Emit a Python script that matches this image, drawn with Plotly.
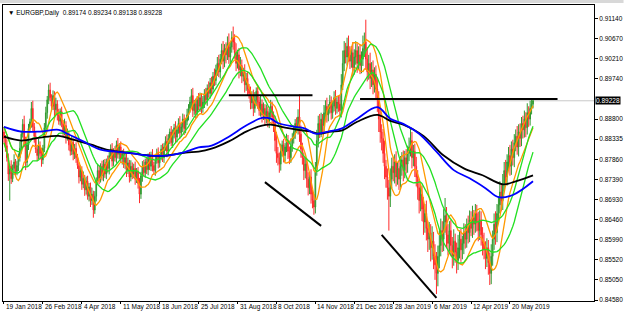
import plotly.graph_objects as go
import pandas as pd

# ---------------- data (prices in pips, /10000) ----------------
first_open = 8850
closes = [
 8835, 8818, 8790, 8752, 8770, 8741, 8765, 8780, 8758, 8772,
 8790, 8812, 8845, 8868, 8830, 8779, 8820, 8858, 8874, 8905,
 8862, 8840, 8810, 8795, 8818, 8800, 8785, 8812, 8860, 8895,
 8925, 8948, 8930, 8910, 8935, 8902, 8915, 8890, 8875, 8898,
 8870, 8852, 8865, 8838, 8845, 8820, 8805, 8826, 8798, 8812,
 8790, 8772, 8745, 8760, 8728, 8742, 8715, 8735, 8700, 8722,
 8690, 8705, 8668, 8700, 8735, 8760, 8742, 8770, 8748, 8775,
 8752, 8780, 8765, 8795, 8810, 8782, 8805, 8790, 8820, 8798,
 8815, 8788, 8800, 8775, 8790, 8760, 8778, 8745, 8770, 8752,
 8765, 8740, 8758, 8730, 8705, 8748, 8770, 8755, 8780, 8762,
 8790, 8770, 8795, 8772, 8760, 8785, 8800, 8778, 8792, 8810,
 8790, 8815, 8828, 8805, 8835, 8850, 8825, 8845, 8860, 8838,
 8855, 8870, 8848, 8862, 8880, 8858, 8875, 8890, 8905, 8920,
 8935, 8900, 8915, 8895, 8925, 8910, 8930, 8905, 8920, 8940,
 8925, 8952, 8940, 8965, 8950, 8980, 8970, 8995, 9010, 8990,
 9020, 9040, 9015, 9045, 9030, 9055, 9025, 9048, 9070, 9060,
 9035, 9010, 9030, 8995, 9005, 8980, 8990, 8960, 8975, 8950,
 8940, 8918, 8935, 8905, 8925, 8945, 8920, 8900, 8915, 8890,
 8905, 8880, 8898, 8875, 8895, 8910, 8885, 8870, 8830, 8800,
 8790, 8775, 8805, 8820, 8795, 8815, 8830, 8805, 8790, 8818,
 8835, 8850, 8870, 8858, 8885, 8845, 8810, 8790, 8760, 8775,
 8740, 8720, 8745, 8705, 8690, 8675, 8760, 8830, 8870, 8850,
 8880, 8865, 8895, 8910, 8890, 8905, 8920, 8895, 8910, 8930,
 8905, 8920, 8915, 8900, 8960, 9010, 9040, 9025, 9050, 9030,
 9015, 9035, 9000, 9025, 9040, 9010, 9030, 9005, 9020, 9045,
 9060, 9020, 8990, 9010, 8975, 8995, 8960, 8985, 8950, 8925,
 8880, 8850, 8835, 8800, 8770, 8745, 8720, 8700, 8740, 8770,
 8755, 8780, 8745, 8765, 8740, 8770, 8785, 8760, 8790, 8775,
 8800, 8815, 8830, 8790, 8805, 8770, 8745, 8720, 8690, 8705,
 8670, 8640, 8660, 8625, 8600, 8615, 8580, 8595, 8560, 8540,
 8520, 8560, 8585, 8620, 8600, 8640, 8655, 8610, 8590, 8620,
 8585, 8560, 8595, 8570, 8550, 8580, 8600, 8575, 8590, 8615,
 8600, 8630, 8615, 8645, 8625, 8650, 8635, 8660, 8640, 8620,
 8645, 8610, 8590, 8575, 8555, 8580, 8545, 8520, 8560, 8600,
 8635, 8615, 8660, 8680, 8710, 8690, 8730, 8760, 8745, 8780,
 8795, 8770, 8810, 8790, 8825, 8840, 8815, 8850, 8835, 8870,
 8855, 8880, 8860, 8895, 8880, 8905, 8915, 8923,
]
upper_wick = [
 12, 8, 15, 10, 6, 14, 9, 18, 7, 11,
 10, 16, 8, 12, 20, 9, 14, 11, 7, 15,
 18, 9, 12, 7, 16, 10, 13, 8, 11, 14,
 9, 13, 17, 8, 12, 10, 15, 9, 14, 7,
 11, 8, 16, 10, 13, 7, 12, 15, 9, 10,
 14, 9, 7, 12, 10, 16, 8, 11, 13, 9,
 10, 15, 8, 12, 9, 14, 11, 7, 13, 10,
 12, 8, 15, 9, 11, 14, 7, 12, 10, 16,
 9, 13, 8, 11, 15, 10, 12, 7, 14, 9,
 11, 16, 8, 10, 13, 9, 12, 15, 8, 11,
 10, 13, 9, 15, 8, 12, 11, 14, 7, 10,
 13, 9, 12, 16, 10, 8, 14, 11, 9, 15,
 10, 12, 17, 9, 13, 11, 8, 14, 10, 12,
 15, 18, 10, 13, 9, 16, 12, 11, 14, 10,
 13, 9, 16, 11, 14, 10, 18, 12, 15, 20,
 12, 16, 22, 10, 14, 18, 25, 12, 15, 26,
 18, 22, 12, 16, 20, 14, 10, 18, 13, 15,
 12, 16, 10, 14, 18, 9, 15, 12, 20, 11,
 14, 10, 16, 12, 9, 15, 11, 13, 18, 20,
 15, 12, 18, 10, 14, 9, 16, 13, 11, 17,
 12, 15, 10, 14, 18, 53, 20, 15, 12, 18,
 14, 16, 12, 18, 10, 15, 20, 25, 18, 22,
 15, 12, 18, 14, 20, 10, 16, 13, 12, 15,
 18, 12, 15, 20, 25, 30, 22, 18, 20, 25,
 20, 15, 25, 18, 22, 16, 20, 24, 18, 30,
 22, 52, 28, 20, 25, 18, 22, 16, 20, 24,
 20, 25, 18, 22, 30, 15, 20, 18, 25, 20,
 22, 18, 25, 15, 20, 24, 18, 22, 16, 20,
 18, 22, 28, 20, 15, 18, 22, 16, 20, 25,
 20, 28, 22, 30, 18, 25, 20, 35, 22, 28,
 30, 25, 35, 28, 22, 30, 41, 20, 25, 22,
 25, 20, 28, 18, 22, 30, 20, 24, 18, 22,
 20, 18, 25, 22, 20, 28, 18, 22, 20, 24,
 22, 20, 18, 25, 20, 22, 18, 24, 28, 20,
 25, 30, 22, 20, 25, 18, 22, 20, 25, 18,
 20, 25, 18, 22, 20, 16, 24, 18, 20, 15,
 18, 20, 16, 22, 15, 18, 12, 6,
]
lower_wick = [
 10, 14, 9, 16, 62, 12, 8, 15, 11, 9,
 13, 9, 12, 8, 15, 18, 10, 12, 9, 14,
 11, 15, 9, 13, 8, 12, 16, 10, 9, 12,
 14, 10, 8, 12, 9, 15, 11, 13, 8, 10,
 9, 12, 10, 15, 8, 13, 10, 9, 14, 11,
 12, 8, 15, 10, 13, 9, 14, 11, 8, 12,
 15, 10, 18, 9, 12, 8, 14, 10, 11, 13,
 9, 12, 10, 14, 8, 13, 11, 9, 12, 10,
 12, 10, 14, 9, 11, 15, 8, 13, 10, 12,
 10, 13, 9, 12, 21, 11, 14, 9, 12, 10,
 13, 9, 11, 14, 10, 12, 9, 13, 11, 8,
 10, 12, 9, 14, 11, 13, 8, 12, 10, 14,
 12, 9, 14, 10, 12, 15, 11, 9, 13, 10,
 12, 15, 10, 14, 11, 9, 13, 12, 10, 14,
 11, 14, 10, 12, 15, 9, 13, 11, 14, 12,
 15, 12, 18, 14, 20, 12, 16, 15, 13, 18,
 14, 18, 12, 20, 15, 16, 12, 18, 14, 16,
 12, 15, 14, 18, 10, 13, 16, 12, 14, 18,
 12, 15, 10, 14, 16, 12, 18, 20, 25, 22,
 18, 20, 15, 12, 16, 14, 12, 18, 15, 12,
 14, 12, 16, 10, 14, 18, 20, 16, 22, 18,
 20, 18, 15, 22, 18, 18, 15, 12, 16, 14,
 12, 16, 14, 12, 18, 15, 12, 16, 14, 12,
 15, 12, 18, 14, 16, 12, 18, 15, 20, 16,
 18, 15, 20, 16, 18, 22, 15, 20, 18, 16,
 20, 25, 22, 18, 25, 20, 22, 18, 25, 28,
 30, 25, 28, 22, 30, 25, 28, 80, 25, 22,
 20, 25, 22, 18, 25, 20, 22, 25, 18, 22,
 20, 18, 22, 25, 20, 25, 22, 28, 30, 25,
 28, 30, 25, 28, 30, 25, 32, 28, 30, 35,
 48, 30, 28, 25, 30, 28, 25, 30, 28, 25,
 25, 28, 22, 25, 30, 22, 25, 28, 22, 25,
 22, 20, 25, 22, 18, 22, 25, 20, 22, 25,
 22, 25, 28, 22, 25, 20, 28, 27, 25, 22,
 25, 28, 22, 25, 20, 25, 22, 18, 22, 20,
 18, 22, 20, 18, 22, 20, 18, 22, 20, 18,
 20, 18, 22, 16, 18, 15, 14, 10,
]

# long moving averages (bar index, pips)
blue_idx = [0, 12, 25, 38, 44, 55, 67, 78, 89, 101, 113, 124, 135, 144, 156, 168, 179, 185, 190, 202, 209, 216, 225, 234, 245, 259, 268, 277, 288, 300, 312, 323, 334, 343, 353, 367]
blue_val = [8862, 8851, 8851, 8855, 8846, 8828, 8809, 8804, 8800, 8795, 8795, 8802, 8814, 8818, 8839, 8865, 8883, 8881, 8871, 8862, 8858, 8846, 8851, 8858, 8881, 8908, 8881, 8869, 8846, 8804, 8761, 8742, 8719, 8698, 8703, 8735]
black_idx = [0, 12, 25, 38, 48, 60, 71, 85, 101, 113, 126, 135, 144, 156, 168, 179, 185, 195, 204, 213, 218, 227, 234, 245, 259, 268, 277, 291, 305, 319, 332, 346, 355, 367]
black_val = [8839, 8830, 8837, 8841, 8832, 8821, 8809, 8802, 8795, 8795, 8802, 8804, 8811, 8828, 8851, 8865, 8867, 8860, 8855, 8851, 8846, 8851, 8853, 8874, 8890, 8876, 8867, 8841, 8795, 8765, 8749, 8728, 8735, 8749]

# hand-drawn trend lines: (bar0, price0, bar1, price1)
trend_lines = [
    (156, 8936, 214, 8936),
    (247, 8927, 384, 8927),
    (181, 8733, 220, 8631),
    (262, 8610, 300, 8463),
]

date_labels = ["19 Jan 2018", "26 Feb 2018", "4 Apr 2018", "11 May 2018", "18 Jun 2018",
               "25 Jul 2018", "31 Aug 2018", "8 Oct 2018", "14 Nov 2018", "21 Dec 2018",
               "28 Jan 2019", "6 Mar 2019", "12 Apr 2019", "20 May 2019"]
bars_per_label = 27
price_ticks = [0.91140, 0.90670, 0.90210, 0.89740, 0.88800, 0.88335, 0.87860,
               0.87390, 0.86930, 0.86460, 0.85990, 0.85520, 0.85050, 0.84580]
last_price = 0.89228
title_text = "\u25bc EURGBP,Daily  0.89174 0.89234 0.89138 0.89228"

# ---------------- build OHLC ----------------
n = min(len(closes), len(upper_wick), len(lower_wick))
c = [v / 10000 for v in closes[:n]]
o = [first_open / 10000] + c[:-1]
h = [max(o[i], c[i]) + upper_wick[i] / 10000 for i in range(n)]
l = [min(o[i], c[i]) - lower_wick[i] / 10000 for i in range(n)]
x = list(range(n))

hs = pd.Series(h)
ls = pd.Series(l)
orange_hi = hs.rolling(8, min_periods=1).mean()
orange_lo = ls.rolling(8, min_periods=1).mean()
green_hi = hs.rolling(21, min_periods=1).mean()
green_lo = ls.rolling(21, min_periods=1).mean()

FONT = "Liberation Sans"

fig = go.Figure()
fig.add_trace(go.Candlestick(
    x=x, open=o, high=h, low=l, close=c,
    increasing=dict(line=dict(color="#2f9a2f", width=1), fillcolor="#8fd08f"),
    decreasing=dict(line=dict(color="#ff2a2a", width=1), fillcolor="#ff9a9a"),
    whiskerwidth=0, showlegend=False, hoverinfo="skip"))

for ser in (orange_hi, orange_lo):
    fig.add_trace(go.Scatter(x=x, y=ser, mode="lines", line=dict(color="#ff9900", width=1.3),
                             showlegend=False, hoverinfo="skip"))
for ser in (green_hi, green_lo):
    fig.add_trace(go.Scatter(x=x, y=ser, mode="lines", line=dict(color="#22e022", width=1.3),
                             showlegend=False, hoverinfo="skip"))
fig.add_trace(go.Scatter(x=black_idx, y=[v / 10000 for v in black_val], mode="lines",
                         line=dict(color="#000000", width=1.8, shape="spline"),
                         showlegend=False, hoverinfo="skip"))
fig.add_trace(go.Scatter(x=blue_idx, y=[v / 10000 for v in blue_val], mode="lines",
                         line=dict(color="#0000ff", width=1.8, shape="spline"),
                         showlegend=False, hoverinfo="skip"))

shapes = []
# current price line
shapes.append(dict(type="line", xref="paper", x0=0, x1=1, yref="y", y0=last_price, y1=last_price,
                   line=dict(color="#c8c8c8", width=1), layer="below"))
for (b0, p0, b1, p1) in trend_lines:
    shapes.append(dict(type="line", xref="x", yref="y", x0=b0, y0=p0 / 10000, x1=b1, y1=p1 / 10000,
                       line=dict(color="#000000", width=2)))
# top grey strip
shapes.append(dict(type="rect", xref="paper", yref="paper", x0=-0.01, x1=1.05,
                   y0=1 + 2 / 296, y1=1 + 6 / 296, fillcolor="#d8d8d8", line=dict(width=0)))

annotations = []
tick_idx = [k * bars_per_label for k in range(len(date_labels))]
for idx, txt in zip(tick_idx, date_labels):
    annotations.append(dict(x=idx, xref="x", y=0, yref="paper", yanchor="top", xanchor="left",
                            yshift=0, xshift=0, text=txt, showarrow=False,
                            font=dict(family=FONT, size=6.5, color="#000000")))
annotations.append(dict(x=0, xref="paper", y=1, yref="paper", xanchor="left", yanchor="top",
                        xshift=3, yshift=-2, text=title_text, showarrow=False,
                        font=dict(family=FONT, size=6.5, color="#000000")))
annotations.append(dict(x=1, xref="paper", y=last_price, yref="y", xanchor="left", yanchor="middle",
                        xshift=1, text=f"{last_price:.5f}", showarrow=False, bgcolor="#000000",
                        borderpad=0, font=dict(family=FONT, size=6.5, color="#ffffff")))

fig.update_layout(
    width=625, height=311, autosize=False,
    margin=dict(l=2, r=26, t=5, b=10, pad=0),
    paper_bgcolor="#ffffff", plot_bgcolor="#ffffff",
    shapes=shapes, annotations=annotations,
    xaxis=dict(range=[-0.69, 409.3], showgrid=False, zeroline=False, showline=True, mirror=True,
               linecolor="#000000", linewidth=1, ticks="outside", ticklen=2, tickcolor="#000000",
               tickvals=tick_idx, showticklabels=False, rangeslider=dict(visible=False),
               fixedrange=True),
    yaxis=dict(range=[0.84557, 0.91463], side="right", showgrid=False, zeroline=False,
               showline=True, mirror=True, linecolor="#000000", linewidth=1,
               ticks="outside", ticklen=3, tickcolor="#000000",
               tickvals=price_ticks, ticktext=[f"{v:.5f}" for v in price_ticks],
               tickfont=dict(family=FONT, size=6.5, color="#000000"), fixedrange=True),
)

fig.write_html("out.html")
